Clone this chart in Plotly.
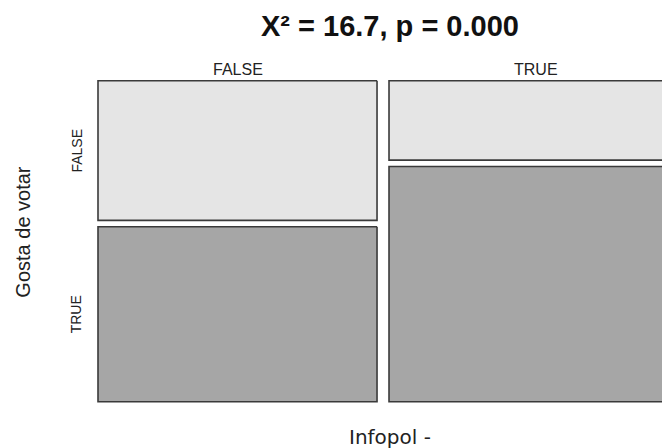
import plotly.graph_objects as go

# Data: contingency table Infopol (columns) x Gosta de votar (rows)
infopol_levels = ["FALSE", "TRUE"]
gosta_levels = ["FALSE", "TRUE"]
counts_infopol_false = [87, 109]   # gosta FALSE, gosta TRUE
counts_infopol_true = [52, 154]
title_text = "X² = 16.7, p = 0.000"
x_title = "Infopol -"
y_title = "Gosta de votar"

table = [counts_infopol_false, counts_infopol_true]
fills = ["#E5E5E5", "#A6A6A6"]

GAP_X = 0.0205
GAP_Y = 0.02
X_RANGE = [-0.0137, 0.979]
Y_RANGE = [1.0196, -0.0178]

N = sum(sum(c) for c in table)
fig = go.Figure()

x0 = 0.0
col_centers = []
row_centers_first = []
for ci, col in enumerate(table):
    ncol = sum(col)
    w = (1 - GAP_X * (len(table) - 1)) * ncol / N
    x1 = x0 + w
    y0 = 0.0
    for ri, n in enumerate(col):
        h = (1 - GAP_Y * (len(col) - 1)) * n / ncol
        y1 = y0 + h
        # filled cell
        fig.add_trace(go.Scatter(
            x=[x0, x1, x1, x0, x0], y=[y0, y0, y1, y1, y0],
            mode="lines", fill="toself", fillcolor=fills[ri],
            line=dict(width=0), hoverinfo="skip", showlegend=False,
        ))
        # outline (right side only when it is inside the visible range)
        ox = [x1, x0, x0, x1]
        oy = [y0, y0, y1, y1]
        if x1 <= X_RANGE[1]:
            ox.append(x1)
            oy.append(y0)
        fig.add_trace(go.Scatter(
            x=ox, y=oy, mode="lines",
            line=dict(color="#3a3a3a", width=1.6),
            hoverinfo="skip", showlegend=False,
        ))
        if ci == 0:
            row_centers_first.append((y0 + y1) / 2)
        y0 = y1 + GAP_Y
    col_centers.append((x0 + x1) / 2)
    x0 = x1 + GAP_X

annotations = []
for lab, cx in zip(infopol_levels, col_centers):
    annotations.append(dict(x=cx, xref="x", y=1.018, yref="paper", text=lab,
                            showarrow=False, yanchor="middle",
                            font=dict(family="Liberation Sans", size=16, color="#222222")))
for lab, cy in zip(gosta_levels, row_centers_first):
    annotations.append(dict(x=-0.024, xref="paper", y=cy, yref="y", text=lab,
                            showarrow=False, textangle=-90, xanchor="center", yanchor="middle",
                            font=dict(family="Liberation Sans", size=14, color="#222222")))
annotations.append(dict(x=0.5, xref="x", y=1.147, yref="paper", text="<b>" + title_text + "</b>",
                        showarrow=False, yanchor="middle",
                        font=dict(family="Liberation Sans", size=29, color="#111111")))
annotations.append(dict(x=0.5, xref="x", y=-0.087, yref="paper", text=x_title,
                        showarrow=False, yanchor="middle",
                        font=dict(family="DejaVu Sans", size=20, color="#222222")))
annotations.append(dict(x=-0.117, xref="paper", y=0.53, yref="paper", text=y_title,
                        showarrow=False, textangle=-90, xanchor="center", yanchor="middle",
                        font=dict(family="Liberation Sans", size=20, color="#222222")))

# The page body adds an 8px offset, so the figure is 8px smaller than the window
fig.update_layout(
    width=662, height=440,
    margin=dict(l=82, r=0, t=67, b=40),
    paper_bgcolor="white", plot_bgcolor="white",
    xaxis=dict(range=X_RANGE, visible=False, fixedrange=True),
    yaxis=dict(range=Y_RANGE, visible=False, fixedrange=True),
    annotations=annotations,
    showlegend=False,
)

fig.write_html("out.html")
